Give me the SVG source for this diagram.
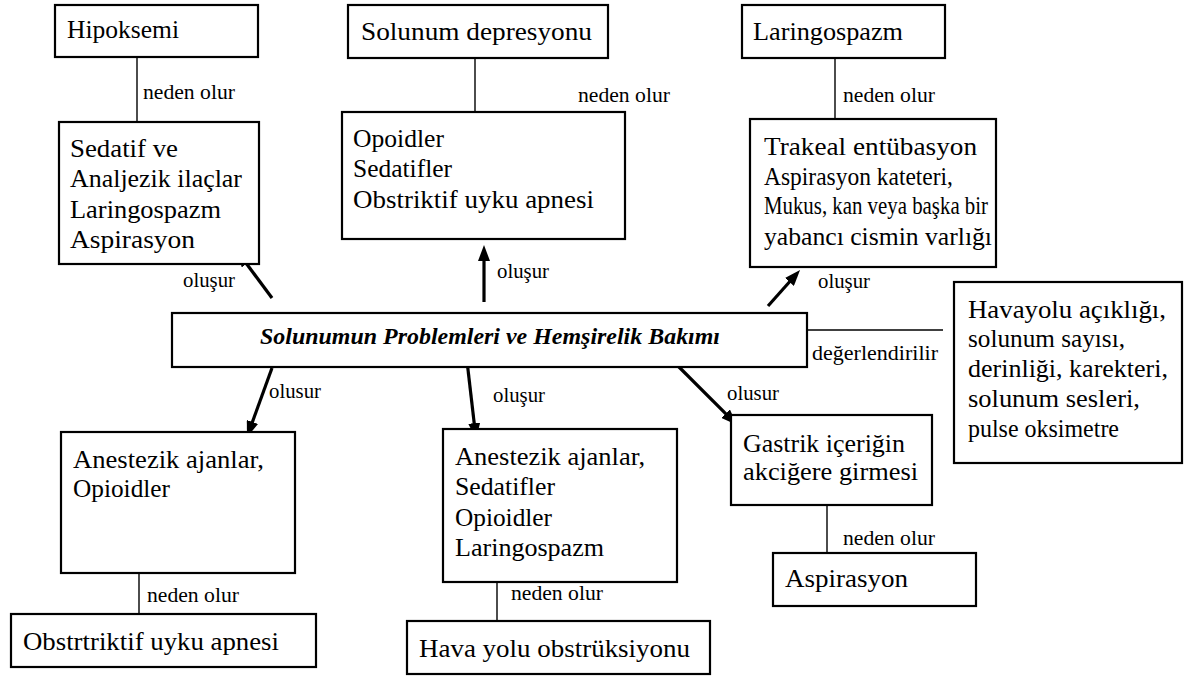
<svg xmlns="http://www.w3.org/2000/svg" width="1186" height="680" viewBox="0 0 1186 680" font-family="Liberation Serif">
  <style>
    .box { fill: #ffffff; stroke: #000000; stroke-width: 2.2; }
    .txt { font-family: "Liberation Serif", serif; font-size: 25px; fill: #000000; }
    .lbl { font-size: 21px; fill: #000000; }
    .title { font-size: 23px; font-weight: bold; font-style: italic; fill: #000000; }
    .link { stroke: #000000; stroke-width: 1.4; fill: none; }
    .arrow { stroke: #000000; stroke-width: 3.2; fill: none; marker-end: url(#head); }
  </style>
  <defs>
    <marker id="head" viewBox="0 0 16 12" refX="6" refY="6" markerWidth="16" markerHeight="12" markerUnits="userSpaceOnUse" orient="auto">
      <path d="M0,0 L16,6 L0,12 z" fill="#000000"/>
    </marker>
  </defs>

  <rect width="1186" height="680" fill="#ffffff"/>

  <!-- connectors -->
  <g id="connectors">
    <line class="link" x1="137" y1="57" x2="137" y2="122"/>
    <line class="link" x1="475" y1="58" x2="475" y2="115"/>
    <line class="link" x1="835" y1="58" x2="835" y2="118"/>
    <line class="link" x1="807" y1="330" x2="943" y2="330"/>
    <line class="link" x1="139" y1="555" x2="139" y2="614"/>
    <line class="link" x1="497" y1="558" x2="497" y2="621"/>
    <line class="link" x1="827" y1="502" x2="827" y2="562"/>

    <line class="arrow" x1="272" y1="298" x2="243" y2="259"/>
    <line class="arrow" x1="484" y1="302" x2="484" y2="255"/>
    <line class="arrow" x1="768" y1="306" x2="793.4" y2="277.5"/>
    <line class="arrow" x1="272" y1="368" x2="250.4" y2="427.6"/>
    <line class="arrow" x1="467" y1="361" x2="474.9" y2="429.1"/>
    <line class="arrow" x1="670" y1="358" x2="729.9" y2="417.9"/>

    <text class="lbl" x="143" y="99" textLength="92" lengthAdjust="spacingAndGlyphs">neden olur</text>
    <text class="lbl" x="578" y="102" textLength="92" lengthAdjust="spacingAndGlyphs">neden olur</text>
    <text class="lbl" x="843" y="102" textLength="92" lengthAdjust="spacingAndGlyphs">neden olur</text>
    <text class="lbl" x="183" y="287" textLength="52" lengthAdjust="spacingAndGlyphs">oluşur</text>
    <text class="lbl" x="497" y="278" textLength="52" lengthAdjust="spacingAndGlyphs">oluşur</text>
    <text class="lbl" x="818" y="288" textLength="52" lengthAdjust="spacingAndGlyphs">oluşur</text>
    <text class="lbl" x="812" y="360" textLength="126" lengthAdjust="spacingAndGlyphs">değerlendirilir</text>
    <text class="lbl" x="269" y="398" textLength="52" lengthAdjust="spacingAndGlyphs">olusur</text>
    <text class="lbl" x="493" y="402" textLength="52" lengthAdjust="spacingAndGlyphs">oluşur</text>
    <text class="lbl" x="727" y="400" textLength="52" lengthAdjust="spacingAndGlyphs">olusur</text>
    <text class="lbl" x="147" y="602" textLength="92" lengthAdjust="spacingAndGlyphs">neden olur</text>
    <text class="lbl" x="511" y="600" textLength="92" lengthAdjust="spacingAndGlyphs">neden olur</text>
    <text class="lbl" x="843" y="545" textLength="92" lengthAdjust="spacingAndGlyphs">neden olur</text>
  </g>

  <!-- top row -->
  <g id="hipoksemi">
    <rect class="box" x="55" y="5" width="203" height="52"/>
    <text class="txt" x="67" y="38" textLength="112" lengthAdjust="spacingAndGlyphs">Hipoksemi</text>
  </g>
  <g id="solunum-depresyonu">
    <rect class="box" x="348" y="5" width="260" height="53"/>
    <text class="txt" x="361" y="40" textLength="231" lengthAdjust="spacingAndGlyphs">Solunum depresyonu</text>
  </g>
  <g id="laringospazm">
    <rect class="box" x="742" y="5" width="203" height="53"/>
    <text class="txt" x="753" y="40" textLength="150" lengthAdjust="spacingAndGlyphs">Laringospazm</text>
  </g>

  <!-- causes, upper row -->
  <g id="sedatif">
    <rect class="box" x="59" y="122" width="200" height="142"/>
    <text class="txt" x="70" y="157" textLength="108" lengthAdjust="spacingAndGlyphs">Sedatif ve</text>
    <text class="txt" x="70" y="187" textLength="172" lengthAdjust="spacingAndGlyphs">Analjezik ilaçlar</text>
    <text class="txt" x="70" y="218" textLength="151" lengthAdjust="spacingAndGlyphs">Laringospazm</text>
    <text class="txt" x="70" y="248" textLength="125" lengthAdjust="spacingAndGlyphs">Aspirasyon</text>
  </g>
  <g id="opoidler">
    <rect class="box" x="342" y="112" width="283" height="127"/>
    <text class="txt" x="353" y="147" textLength="91" lengthAdjust="spacingAndGlyphs">Opoidler</text>
    <text class="txt" x="353" y="177" textLength="99" lengthAdjust="spacingAndGlyphs">Sedatifler</text>
    <text class="txt" x="353" y="208" textLength="241" lengthAdjust="spacingAndGlyphs">Obstriktif uyku apnesi</text>
  </g>
  <g id="trakeal">
    <rect class="box" x="750" y="119" width="246" height="148"/>
    <text class="txt" x="764" y="155" textLength="213" lengthAdjust="spacingAndGlyphs">Trakeal entübasyon</text>
    <text class="txt" x="764" y="185" textLength="189" lengthAdjust="spacingAndGlyphs">Aspirasyon kateteri,</text>
    <text class="txt" x="764" y="214" textLength="224" lengthAdjust="spacingAndGlyphs">Mukus, kan veya başka bir</text>
    <text class="txt" x="764" y="245" textLength="228" lengthAdjust="spacingAndGlyphs">yabancı cismin varlığı</text>
  </g>

  <!-- central topic -->
  <g id="merkez">
    <rect class="box" x="172" y="313" width="635" height="54"/>
    <text class="title" x="260" y="344" textLength="460" lengthAdjust="spacingAndGlyphs">Solunumun Problemleri ve Hemşirelik Bakımı</text>
  </g>

  <g id="degerlendirme">
    <rect class="box" x="954" y="282" width="228" height="181"/>
    <text class="txt" x="968" y="318" textLength="198" lengthAdjust="spacingAndGlyphs">Havayolu açıklığı,</text>
    <text class="txt" x="968" y="347" textLength="157" lengthAdjust="spacingAndGlyphs">solunum sayısı,</text>
    <text class="txt" x="968" y="377" textLength="200" lengthAdjust="spacingAndGlyphs">derinliği, karekteri,</text>
    <text class="txt" x="968" y="407" textLength="172" lengthAdjust="spacingAndGlyphs">solunum sesleri,</text>
    <text class="txt" x="968" y="437" textLength="151" lengthAdjust="spacingAndGlyphs">pulse oksimetre</text>
  </g>

  <!-- causes, lower row -->
  <g id="anestezik-sol">
    <rect class="box" x="61" y="432" width="234" height="141"/>
    <text class="txt" x="73" y="468" textLength="191" lengthAdjust="spacingAndGlyphs">Anestezik ajanlar,</text>
    <text class="txt" x="73" y="497" textLength="97" lengthAdjust="spacingAndGlyphs">Opioidler</text>
  </g>
  <g id="anestezik-orta">
    <rect class="box" x="443" y="429" width="234" height="153"/>
    <text class="txt" x="455" y="465" textLength="190" lengthAdjust="spacingAndGlyphs">Anestezik ajanlar,</text>
    <text class="txt" x="455" y="495" textLength="100" lengthAdjust="spacingAndGlyphs">Sedatifler</text>
    <text class="txt" x="455" y="526" textLength="97" lengthAdjust="spacingAndGlyphs">Opioidler</text>
    <text class="txt" x="455" y="556" textLength="149" lengthAdjust="spacingAndGlyphs">Laringospazm</text>
  </g>
  <g id="gastrik">
    <rect class="box" x="731" y="415" width="201" height="90"/>
    <text class="txt" x="743" y="452" textLength="162" lengthAdjust="spacingAndGlyphs">Gastrik içeriğin</text>
    <text class="txt" x="743" y="480" textLength="175" lengthAdjust="spacingAndGlyphs">akciğere girmesi</text>
  </g>

  <!-- results, bottom row -->
  <g id="obstruktif-apne">
    <rect class="box" x="11" y="614" width="305" height="53"/>
    <text class="txt" x="23" y="650" textLength="256" lengthAdjust="spacingAndGlyphs">Obstrtriktif uyku apnesi</text>
  </g>
  <g id="hava-yolu">
    <rect class="box" x="407" y="621" width="303" height="53"/>
    <text class="txt" x="419" y="657" textLength="271" lengthAdjust="spacingAndGlyphs">Hava yolu obstrüksiyonu</text>
  </g>
  <g id="aspirasyon">
    <rect class="box" x="773" y="553" width="203" height="53"/>
    <text class="txt" x="785" y="587" textLength="123" lengthAdjust="spacingAndGlyphs">Aspirasyon</text>
  </g>
</svg>
